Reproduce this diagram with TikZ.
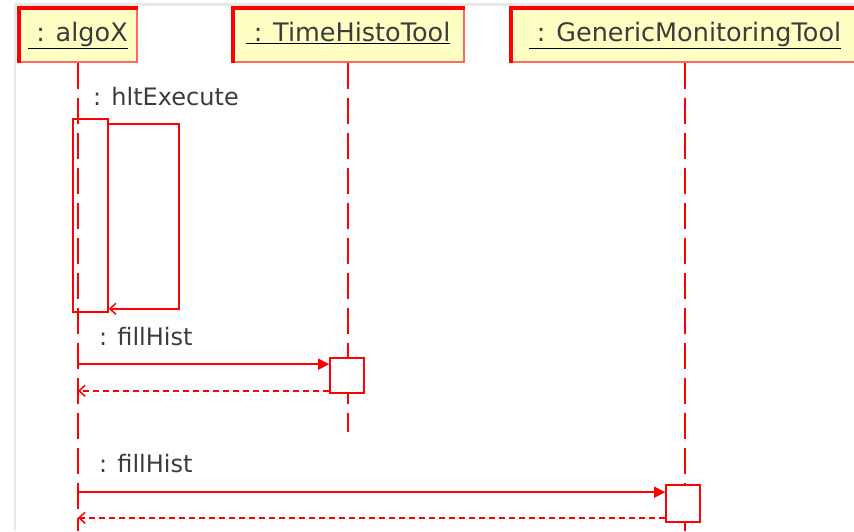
\documentclass[tikz,border=0pt]{standalone}
\usepackage{fontspec}
\setmainfont{DejaVu Sans}
\usetikzlibrary{arrows.meta,positioning}
\definecolor{umlred}{RGB}{255,0,0}
\definecolor{headfill}{RGB}{255,255,196}
\definecolor{txtgray}{RGB}{60,60,60}
\definecolor{framegray}{RGB}{232,232,232}

\begin{document}
\begin{tikzpicture}
			[x=1pt,y=-1pt,
			head/.style={draw=umlred!60,line width=2pt,fill=headfill,minimum height=54pt,
				inner sep=0pt,text height=19pt,text depth=5pt,font=\fontsize{25.5}{30}\selectfont},
			headedge/.style={draw=umlred,line width=4pt},
			lifeline/.style={draw=umlred,line width=1.5pt,dash pattern=on 26pt off 9pt},
			act/.style={draw=umlred,line width=1.6pt,minimum width=34pt,inner sep=0pt},
			msg/.style={anchor=base west,inner sep=0pt,text=txtgray,font=\fontsize{24}{28}\selectfont},
			call/.style={draw=umlred,line width=1.5pt,-{Triangle[length=11pt,width=11pt]}},
			ret/.style={draw=umlred,line width=1.5pt,dash pattern=on 6pt off 4pt,-{Straight Barb[length=6pt,width=11pt]}},
			selfcall/.style={draw=umlred,line width=1.5pt,-{Straight Barb[length=6pt,width=11pt]}}]
			\useasboundingbox (0,0) rectangle (854,531);
			\clip (0,0) rectangle (854,531);
			\fill[white] (0,0) rectangle (854,531);
			\draw[framegray,line width=2.5pt] (15,531) -- (15,4.5) -- (854,4.5);
			
			% objects
			\node[head,minimum width=118pt] (algo) at (78,34.5) {\underline{\textcolor{txtgray}{\ : algoX}}};
			\node[head,minimum width=231pt] (histo) at (348,34.5) {\underline{\textcolor{txtgray}{\ : TimeHistoTool}}};
			\node[head,minimum width=348pt] (monit) at (685,34.5) {\underline{\textcolor{txtgray}{\ : GenericMonitoringTool}}};
			\foreach \n in {algo,histo,monit}
			\draw[headedge] ([xshift=1pt]\n.south west) |- ([yshift=-1pt]\n.north east);
			
			% lifelines
			\coordinate (algoEnd) at (78,531);
			\coordinate (histoEnd) at (348,432);
			\coordinate (monitEnd) at (685,531);
			\foreach \n in {algo,histo,monit}
			\draw[lifeline] (\n.south) -- (\n End);
			
			% hltExecute
			\node[act,minimum width=35pt,minimum height=193pt] (exec) at (90.5,215.5) {};
			\node[msg] (m1) at (93,105) {: hltExecute};
			\draw[selfcall] ([yshift=-6pt]exec.north east) -- ++(70,0) |- ([yshift=4pt]exec.south east);
			
			% fillHist -> TimeHistoTool
			\node[act,fill=white,minimum height=35pt] (act1) at (347,375.5) {};
			\node[msg] (m2) at (99,345) {: fillHist};
			\coordinate (c1) at ([yshift=-7pt]act1.north west);
			\coordinate (r1) at ([yshift=3pt]act1.south west);
			\draw[call] (algo |- c1) -- (c1);
			\draw[ret] (r1) -- (algo |- r1);
			
			% fillHist -> GenericMonitoringTool
			\node[act,fill=white,minimum height=37pt] (act2) at (683,503.5) {};
			\node[msg] (m3) at (99,472) {: fillHist};
			\coordinate (c2) at ([yshift=-8pt]act2.north west);
			\coordinate (r2) at ([yshift=5pt]act2.south west);
			\draw[call] (algo |- c2) -- (c2);
			\draw[ret] (r2) -- (algo |- r2);
			\end{tikzpicture}
\end{document}
